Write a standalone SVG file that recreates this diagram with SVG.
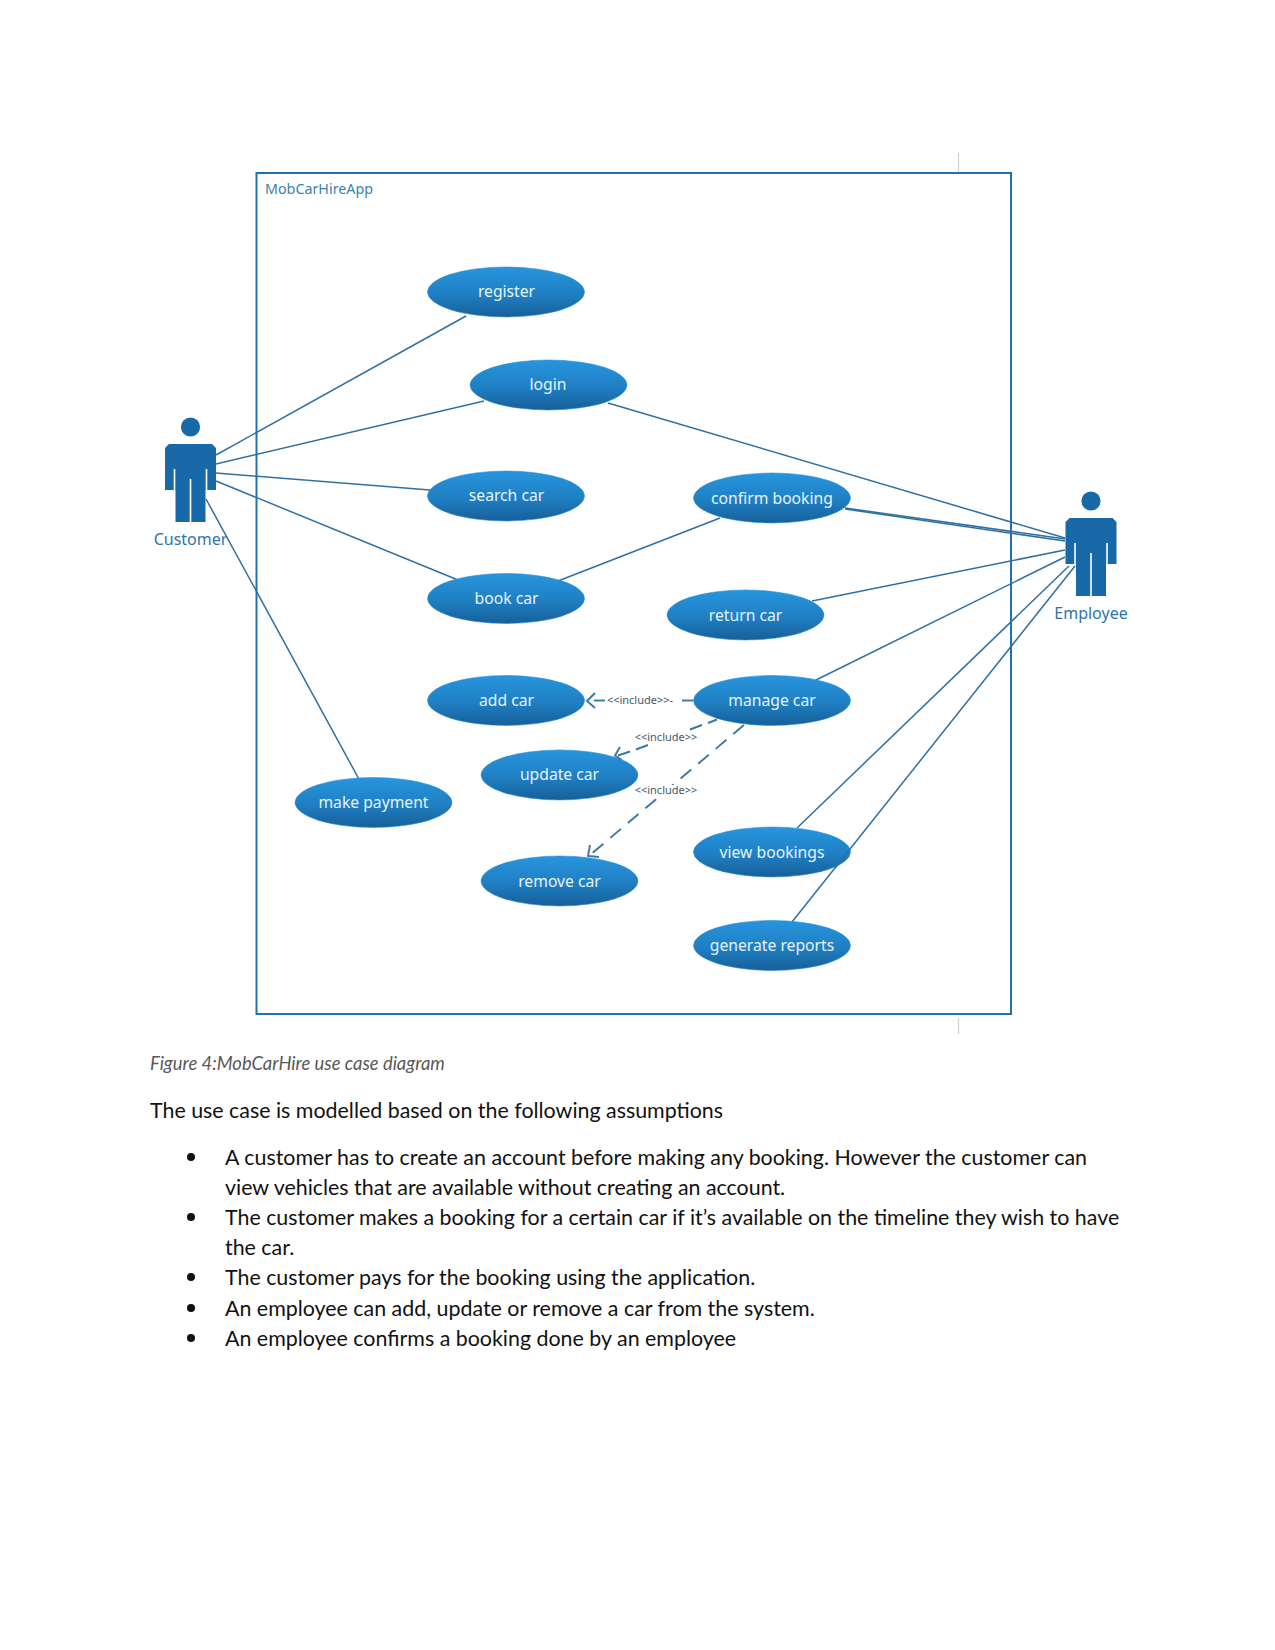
<svg xmlns="http://www.w3.org/2000/svg" width="1275" height="1650" viewBox="0 0 1275 1650">
  <style>
    .case { fill: url(#caseFill); stroke: #2b8fd6; stroke-width: 0.6; }
    .caseLabel { font-family: "Noto Sans", "DejaVu Sans", sans-serif; font-size: 15.7px; fill: #e6f3fc; text-anchor: middle; }
    .actor { fill: #1769a8; }
    .slit { stroke: #ffffff; stroke-width: 1.6; fill: none; }
    .actorLabel { font-family: "Noto Sans", "DejaVu Sans", sans-serif; font-size: 16px; fill: #2f74a8; text-anchor: middle; }
    .assoc { stroke: #2f70a3; stroke-width: 1.5; fill: none; }
    .dep { stroke: #3b789f; stroke-width: 1.9; fill: none; stroke-dasharray: 14 9; }
    .head { stroke: #3b789f; stroke-width: 1.9; fill: none; }
    .incl { font-family: "Noto Sans", "DejaVu Sans", sans-serif; font-size: 11px; fill: #44596b; text-anchor: middle; }
    .body { font-family: Lato, "Liberation Sans", sans-serif; font-size: 21.4px; fill: #111111; }
    .caption { font-family: Lato, "Liberation Sans", sans-serif; font-size: 18.4px; font-style: italic; fill: #595959; }
  </style>
  <defs>
    <linearGradient id="caseFill" x1="0" y1="0" x2="0" y2="1">
      <stop offset="0" stop-color="#2795de"/>
      <stop offset="0.55" stop-color="#1f7fc2"/>
      <stop offset="1" stop-color="#175f99"/>
    </linearGradient>
    <g id="figure">
      <circle cx="25.5" cy="-17" r="9.6" class="actor"/>
      <path class="actor" d="M4 0H47L51 4V46H40.500V78H10.500V46H0V4Z"/>
      <path class="slit" d="M9.500 25V46M41.500 25V46M25.500 35V78"/>
    </g>
  </defs>

  <rect width="1275" height="1650" fill="#ffffff"/>

  <!-- system boundary -->
  <g id="boundary">
    <path d="M958.500 153V172M958.500 1018V1034" stroke="#d0d0d0" stroke-width="1.2" fill="none"/>
    <rect x="256.500" y="173" width="754.500" height="841" fill="#ffffff" stroke="#2371ac" stroke-width="2"/>
    <text x="265" y="194" font-family="'Noto Sans', 'DejaVu Sans', sans-serif" font-size="14.3px" fill="#3c7fb0">MobCarHireApp</text>
  </g>

  <!-- associations and include dependencies -->
  <g id="connectors">
    <path class="assoc" d="M216 455L466 316"/>
    <path class="assoc" d="M216 464L484 401"/>
    <path class="assoc" d="M216 473L430 490"/>
    <path class="assoc" d="M216 481L458 580"/>
    <path class="assoc" d="M206 499L360 781"/>
    <path class="assoc" d="M558 581L720 518"/>
    <path class="assoc" d="M608 403L1065 538"/>
    <path class="assoc" d="M845 509L1065 541"/>
    <path class="assoc" d="M845 508L1065 539"/>
    <path class="assoc" d="M812 601L1065 550"/>
    <path class="assoc" d="M816 680L1065 557"/>
    <path class="assoc" d="M797 828L1069 566"/>
    <path class="assoc" d="M792 922L1075 566"/>
    <path class="head" d="M605 700.500H594"/>
    <path class="head" d="M693 700.500H682"/>
    <path class="head" d="M595 693L587 701L595 708"/>
    <path class="head" d="M717 719.500L708 723M702 725L690 729.500M648 745L636 749.500M630 751.500L618 755.500"/>
    <path class="head" d="M620 747L615 755.500L622 760"/>
    <path class="dep" d="M744 725L590 855"/>
    <path class="head" d="M590 845L588 856L599 857"/>
    <rect x="634" y="785" width="42" height="11" fill="#ffffff"/>
    <text class="incl" x="640" y="704">&lt;&lt;include&gt;&gt;-</text>
    <text class="incl" x="666" y="741">&lt;&lt;include&gt;&gt;</text>
    <text class="incl" x="666" y="794">&lt;&lt;include&gt;&gt;</text>
  </g>

  <!-- actors -->
  <g id="customer">
    <use href="#figure" x="165" y="444"/>
    <text class="actorLabel" x="190.500" y="544.500">Customer</text>
  </g>
  <g id="employee">
    <use href="#figure" x="1065.500" y="518"/>
    <text class="actorLabel" x="1091" y="618.500">Employee</text>
  </g>

  <!-- use cases -->
  <g id="register"><ellipse class="case" cx="506" cy="292" rx="78.500" ry="25"/><text class="caseLabel" x="506.500" y="297">register</text></g>
  <g id="login"><ellipse class="case" cx="548.500" cy="385" rx="78.500" ry="25"/><text class="caseLabel" x="548" y="390">login</text></g>
  <g id="search-car"><ellipse class="case" cx="506" cy="496" rx="78.500" ry="25"/><text class="caseLabel" x="506.500" y="501">search car</text></g>
  <g id="confirm-booking"><ellipse class="case" cx="772" cy="498" rx="78.500" ry="25"/><text class="caseLabel" x="772" y="504">confirm booking</text></g>
  <g id="book-car"><ellipse class="case" cx="506" cy="598.500" rx="78.500" ry="25"/><text class="caseLabel" x="506.500" y="604">book car</text></g>
  <g id="return-car"><ellipse class="case" cx="745.500" cy="615" rx="78.500" ry="25"/><text class="caseLabel" x="745.500" y="621">return car</text></g>
  <g id="add-car"><ellipse class="case" cx="506" cy="700.500" rx="78.500" ry="25"/><text class="caseLabel" x="506.500" y="706">add car</text></g>
  <g id="manage-car"><ellipse class="case" cx="772" cy="700.500" rx="78.500" ry="25"/><text class="caseLabel" x="772" y="706">manage car</text></g>
  <g id="update-car"><ellipse class="case" cx="559.500" cy="775" rx="78.500" ry="25"/><text class="caseLabel" x="559.500" y="780">update car</text></g>
  <g id="make-payment"><ellipse class="case" cx="373.500" cy="802.500" rx="78.500" ry="25"/><text class="caseLabel" x="373.500" y="808">make payment</text></g>
  <g id="view-bookings"><ellipse class="case" cx="772" cy="852" rx="78.500" ry="25"/><text class="caseLabel" x="772" y="858">view bookings</text></g>
  <g id="remove-car"><ellipse class="case" cx="559.500" cy="881" rx="78.500" ry="25"/><text class="caseLabel" x="559.500" y="887">remove car</text></g>
  <g id="generate-reports"><ellipse class="case" cx="772" cy="945.500" rx="78.500" ry="25"/><text class="caseLabel" x="772" y="951">generate reports</text></g>
  <path class="assoc" d="M835 868L850 849"/>

  <!-- document text below the figure -->
  <g id="document">
    <text class="caption" x="150" y="1070">Figure 4:MobCarHire use case diagram</text>
    <text class="body" x="150" y="1117.500">The use case is modelled based on the following assumptions</text>
    <g fill="#111111">
      <circle cx="191" cy="1157" r="4"/>
      <circle cx="191" cy="1217" r="4"/>
      <circle cx="191" cy="1277" r="4"/>
      <circle cx="191" cy="1308" r="4"/>
      <circle cx="191" cy="1338" r="4"/>
    </g>
    <text class="body" x="225" y="1165">A customer has to create an account before making any booking. However the customer can</text>
    <text class="body" x="225" y="1195">view vehicles that are available without creating an account.</text>
    <text class="body" x="225" y="1225">The customer makes a booking for a certain car if it’s available on the timeline they wish to have</text>
    <text class="body" x="225" y="1255">the car.</text>
    <text class="body" x="225" y="1285">The customer pays for the booking using the application.</text>
    <text class="body" x="225" y="1316">An employee can add, update or remove a car from the system.</text>
    <text class="body" x="225" y="1346">An employee confirms a booking done by an employee</text>
  </g>
</svg>
